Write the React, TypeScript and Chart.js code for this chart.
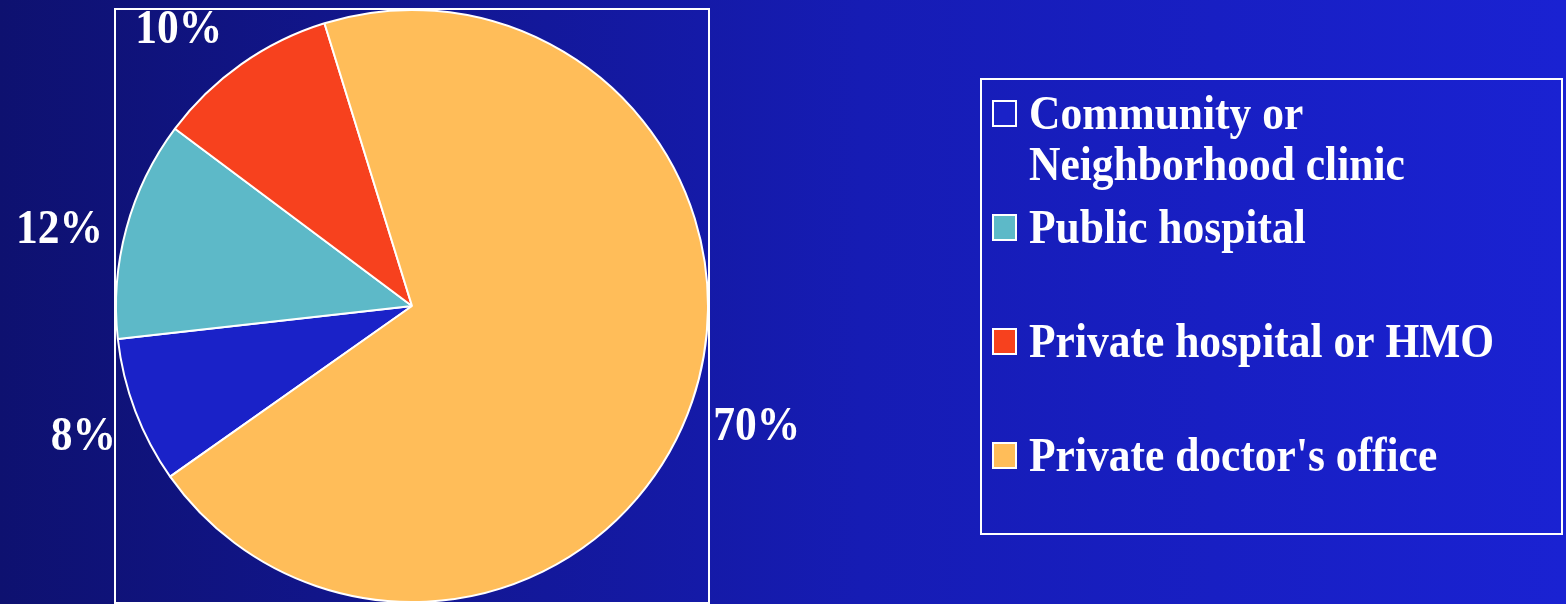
import React, { useEffect, useRef } from "react";
import { Chart, registerables } from "chart.js";

Chart.register(...registerables);

// ---- data ----
const categories = [
  "Community or Neighborhood clinic",
  "Public hospital",
  "Private hospital or HMO",
  "Private doctor's office",
];
const shares = [8, 12, 10, 70];
const shareLabels = ["8%", "12%", "10%", "70%"];
const sliceColors = ["#1a22c8", "#5db9c8", "#f7411e", "#ffbd59"];

// layout tweaks for the slice labels (pixels, relative to the arc-based anchor)
const LABEL_NUDGE: [number, number][] = [
  [9, 0],
  [-4, 16],
  [-25, 16],
  [3, 2],
];

const FONT_FAMILY = "'Liberation Serif', 'Times New Roman', serif";
const TEXT_SCALE_Y = 1.1;

function drawStretchedText(ctx: CanvasRenderingContext2D, text: string, x: number, y: number) {
  ctx.save();
  ctx.translate(x, y);
  ctx.scale(1, TEXT_SCALE_Y);
  ctx.fillText(text, 0, 0);
  ctx.restore();
}

const framePlugin = {
  id: "frame",
  beforeDatasetsDraw(chart: any) {
    const { ctx, chartArea } = chart;
    ctx.save();
    ctx.strokeStyle = "#ffffff";
    ctx.lineWidth = 2;
    ctx.strokeRect(chartArea.left, chartArea.top, chartArea.right - chartArea.left, chartArea.bottom - chartArea.top);
    ctx.restore();
  },
};

const sliceLabelPlugin = {
  id: "sliceLabels",
  afterDatasetsDraw(chart: any) {
    const { ctx } = chart;
    const meta = chart.getDatasetMeta(0);
    ctx.save();
    ctx.fillStyle = "#ffffff";
    ctx.font = `bold 43.5px ${FONT_FAMILY}`;
    ctx.textAlign = "center";
    ctx.textBaseline = "alphabetic";
    meta.data.forEach((arc: any, i: number) => {
      const p = arc.getProps(["x", "y", "startAngle", "endAngle", "outerRadius"], true);
      const mid = (p.startAngle + p.endAngle) / 2;
      const r = p.outerRadius * 1.22;
      const cx = p.x + Math.cos(mid) * r + LABEL_NUDGE[i][0];
      const cy = p.y + Math.sin(mid) * r + LABEL_NUDGE[i][1];
      drawStretchedText(ctx, shareLabels[i], cx, cy + 16);
    });
    ctx.restore();
  },
};

const legendPlugin = {
  id: "sideLegend",
  afterDraw(chart: any) {
    const { ctx } = chart;
    const boxL = 981, boxT = 79, boxR = 1562, boxB = 534;
    ctx.save();
    ctx.strokeStyle = "#ffffff";
    ctx.lineWidth = 2;
    ctx.strokeRect(boxL, boxT, boxR - boxL, boxB - boxT);

    ctx.font = `bold 43.5px ${FONT_FAMILY}`;
    ctx.textAlign = "left";
    ctx.textBaseline = "alphabetic";
    const textX = 1029;
    const maxW = boxR - textX - 12;
    categories.forEach((label, i) => {
      const base = 129 + i * 114;
      ctx.fillStyle = sliceColors[i];
      ctx.fillRect(993, base - 28, 23, 25);
      ctx.strokeStyle = "#ffffff";
      ctx.lineWidth = 2;
      ctx.strokeRect(993, base - 28, 23, 25);
      const words = label.split(" ");
      const lines: string[] = [];
      let cur = "";
      words.forEach((w) => {
        const test = cur ? cur + " " + w : w;
        if (ctx.measureText(test).width > maxW && cur) {
          lines.push(cur);
          cur = w;
        } else cur = test;
      });
      if (cur) lines.push(cur);
      ctx.fillStyle = "#ffffff";
      lines.forEach((ln, j) => drawStretchedText(ctx, ln, textX, base + j * 51));
    });
    ctx.restore();
  },
};

export default function App() {
  const canvasRef = useRef<HTMLCanvasElement | null>(null);

  useEffect(() => {
    if (!canvasRef.current) return;
    const chart = new Chart(canvasRef.current, {
      type: "pie",
      data: {
        labels: categories,
        datasets: [
          {
            data: shares,
            backgroundColor: sliceColors,
            borderColor: "#ffffff",
            borderWidth: 2,
          },
        ],
      },
      options: {
        responsive: false,
        maintainAspectRatio: false,
        devicePixelRatio: 1,
        animation: false,
        rotation: 234.8,
        layout: { padding: { left: 115, top: 9, right: 857, bottom: 1 } },
        plugins: {
          legend: { display: false },
          tooltip: { enabled: false },
        },
      },
      plugins: [framePlugin, sliceLabelPlugin, legendPlugin],
    });
    return () => chart.destroy();
  }, []);

  return (
    <div
      style={{
        position: "absolute",
        left: 0,
        top: 0,
        width: 1566,
        height: 604,
        overflow: "hidden",
        background: "linear-gradient(to right, #0e1170 0%, #161cb4 55%, #1a22d2 100%)",
      }}
    >
      <canvas ref={canvasRef} width={1566} height={604} style={{ display: "block" }} />
    </div>
  );
}
